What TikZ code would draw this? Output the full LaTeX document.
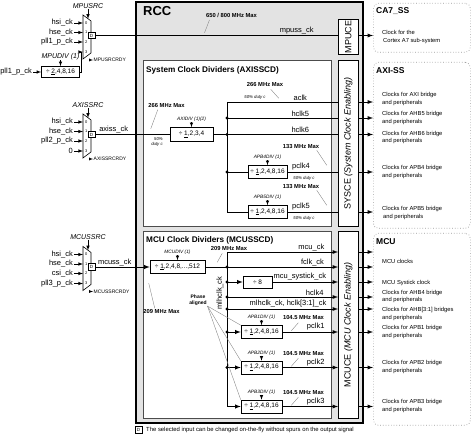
\documentclass[tikz,border=0pt]{standalone}
\usepackage{fontspec}
\setmainfont{Liberation Sans}
\usetikzlibrary{positioning,arrows}

\tikzset{
  clkmux/.pic={
    \draw[line width=0.6pt,fill=white] (0,0) -- (8,6) -- (8,38) -- (0,44) -- cycle;
    \foreach \k/\yy in {0/8,1/17.5,2/27,3/37}{
      \coordinate (-in\k) at (0,\yy);
      \node[font=\fontsize{4}{4}\selectfont,inner sep=0] (-n\k) at (3.2,\yy) {\k};
    }
    \node[dbox] (-d) at (8.5,20.5) {D};
    \coordinate (-sel) at (5,3.8);
    \coordinate (-rdy) at (7,45);
  }
}

\begin{document}
\begin{tikzpicture}[x=1pt,y=-1pt,
  sig/.style={line width=0.9pt},
  insig/.style={line width=0.6pt,-latex},
  ptr/.style={draw=gray,line width=0.35pt},
  lbl/.style={font=\fontsize{7.5}{8}\selectfont,inner sep=1pt},
  srclbl/.style={font=\fontsize{7}{8}\selectfont\itshape,inner sep=0.5pt},
  divlbl/.style={font=\fontsize{4.8}{5}\selectfont\itshape,inner sep=0.5pt},
  rdylbl/.style={font=\fontsize{5}{6}\selectfont,inner sep=0.5pt},
  maxlbl/.style={font=\fontsize{5.8}{6.5}\selectfont\bfseries,inner sep=0.5pt,align=center},
  dutylbl/.style={font=\fontsize{4.3}{4.8}\selectfont\itshape,inner sep=0.5pt,align=right},
  divbox/.style={draw,line width=0.6pt,fill=white,minimum height=13pt,inner sep=0.5pt,font=\fontsize{6.5}{7}\selectfont},
  dbox/.style={draw,line width=0.5pt,fill=white,minimum size=6.5pt,inner sep=0,font=\fontsize{4.5}{5}\selectfont},
  sectitle/.style={font=\fontsize{8.2}{9}\selectfont\bfseries,anchor=west,inner sep=0},
  subbox/.style={draw=gray!60!black,line width=0.6pt,fill=white,anchor=north west,inner sep=0},
  cestrip/.style={draw,line width=0.6pt,fill=white,anchor=north west,inner sep=0},
  cetxt/.style={font=\fontsize{9}{10}\selectfont,rotate=90,inner sep=0},
  dest/.style={draw=gray!80,dotted,line width=0.7pt,rounded corners=5pt,fill=white,anchor=north west,inner sep=0},
  desttitle/.style={font=\fontsize{8.5}{9}\selectfont\bfseries,anchor=west,inner sep=0},
  desttxt/.style={font=\fontsize{5.8}{7.8}\selectfont,align=left,anchor=west,inner sep=0},
]
\useasboundingbox (0,0) rectangle (474,435);

% RCC block and its sub blocks
\node[draw,line width=2pt,fill=gray!22,anchor=north west,minimum width=227pt,minimum height=421pt,inner sep=0] (rcc) at (135,1) {};
\node[font=\fontsize{13}{14}\selectfont\bfseries,anchor=west,inner sep=0] (rcct) at (143,11) {RCC};
\node[subbox,minimum width=188pt,minimum height=166pt] (axisscd) at (143,60) {};
\node[sectitle] (axisscdt) at (146,70) {System Clock Dividers (AXISSCD)};
\node[subbox,minimum width=188pt,minimum height=187pt] (mcusscd) at (143,231) {};
\node[sectitle] (mcusscdt) at (146,240) {MCU Clock Dividers (MCUSSCD)};

% clock enabling strips
\node[cestrip,minimum width=20pt,minimum height=35pt] (mpuce) at (338,19) {};
\node[cestrip,minimum width=20pt,minimum height=166pt] (sysce) at (338,60) {};
\node[cestrip,minimum width=20pt,minimum height=187pt] (mcuce) at (338,231) {};
\node[cetxt] (mpucet) at (mpuce) {MPUCE};
\node[cetxt] (syscet) at (sysce) {SYSCE \textit{(System Clock Enabling)}};
\node[cetxt] (mcucet) at (mcuce) {MCUCE \textit{(MCU Clock Enabling)}};

% sub-systems
\node[dest,minimum width=97pt,minimum height=49pt] (ca7ss) at (373,3) {};
\node[dest,minimum width=97pt,minimum height=166pt] (axiss) at (373,62) {};
\node[dest,minimum width=97pt,minimum height=192pt] (mcuss) at (373,233) {};
\node[desttitle] (ca7sst) at (376,11) {CA7\_SS};
\node[desttitle] (axisst) at (376,71) {AXI-SS};
\node[desttitle] (mcusst) at (376,242) {MCU};
\foreach \nm/\yy/\t in {ca7a/37/{Clock for the\\\hspace{1pt}Cortex A7 sub-system},
    axia/98.7/{Clocks for AXI bridge\\and peripherals},
    axib/118/{Clocks for AHB5 bridge\\and peripherals},
    axic/137.5/{Clocks for AHB6 bridge\\and peripherals},
    axid/172/{Clocks for APB4 bridge\\and peripherals},
    axie/212.7/{Clocks for APB5 bridge\\\hspace{1pt}and peripherals},
    mcua/261/{MCU clocks},
    mcub/283/{MCU Systick clock},
    mcuc/296.5/{Clocks for AHB4 bridge\\and peripherals},
    mcud/314/{Clocks for AHB[3:1] bridges\\and peripherals},
    mcue/332/{Clocks for APB1 bridge\\and peripherals},
    mcuf/367/{Clocks for APB2 bridge\\and peripherals},
    mcug/406/{Clocks for APB3 bridge\\and peripherals}}
  \node[desttxt] (\nm) at (382,\yy) {\t};

% source muxes
\pic (mpu) at (83,15) {clkmux};
\pic (axi) at (83,114) {clkmux};
\pic (mcu) at (83,246.5) {clkmux};
\foreach \m/\s in {mpu/MPUSRC,axi/AXISSRC,mcu/MCUSSRC}{
  \node[srclbl,above=10pt of \m-sel] (\m-src) {\s};
  \draw[insig] (\m-src) -- (\m-sel);
  \node[rdylbl,right=3pt of \m-rdy] (\m-rdyl) {\s RDY};
  \draw[line width=0.4pt,-latex] (\m-rdy) -- (\m-rdyl);
}
\foreach \k/\t in {0/hsi\_ck,1/hse\_ck,2/pll1\_p\_ck}{
  \node[lbl,left=9pt of mpu-in\k] (mpu-i\k) {\t};
  \draw[insig] (mpu-i\k) -- (mpu-in\k);
}
\foreach \k/\t in {0/hsi\_ck,1/hse\_ck,2/pll2\_p\_ck,3/0}{
  \node[lbl,left=9pt of axi-in\k] (axi-i\k) {\t};
  \draw[insig] (axi-i\k) -- (axi-in\k);
}
\foreach \k/\t in {0/hsi\_ck,1/hse\_ck,2/csi\_ck,3/pll3\_p\_ck}{
  \node[lbl,left=9pt of mcu-in\k] (mcu-i\k) {\t};
  \draw[insig] (mcu-i\k) -- (mcu-in\k);
}

% MPU path
\node[divbox,minimum width=38pt,minimum height=11pt] (mpudiv) at (60.5,72) {÷ \underline{2},4,8,16};
\node[srclbl,above=6pt of mpudiv] (mpudiv-l) {MPUDIV (1)};
\draw[insig] (mpudiv-l) -- (mpudiv);
\node[lbl,left=8pt of mpudiv] (mpudiv-i) {pll1\_p\_ck};
\draw[insig] (mpudiv-i) -- (mpudiv);
\draw[insig] (mpudiv.east) -- ++(1.5,0) |- (mpu-in3);
\draw[sig] (mpu-d) -- (mpu-d -| mpuce.west) node[lbl,pos=0.83,above] (mpussl) {mpuss\_ck};
\draw[sig,-latex] (mpu-d -| mpuce.east) -- (mpu-d -| ca7ss.west);
\node[maxlbl] (mx650) at (231.5,15.5) {650 / 800 MHz Max};
\draw[ptr] (mx650.south west) ++(4,1.5) -- ++(-5,13);

% AXI path
\node[divbox,minimum width=43pt,minimum height=14pt] (axidiv) at (191.5,134.5) {÷ \underline{1},2,3,4};
\node[divlbl,above=5pt of axidiv] (axidiv-l) {AXIDIV (1)(2)};
\draw[insig] (axidiv-l) -- (axidiv);
\draw[sig] (axi-d) -- (axidiv) node[lbl,pos=0.25,above] (axissl) {axiss\_ck};
\node[maxlbl] (mx266a) at (166.5,106) {266 MHz Max};
\draw[ptr] (mx266a.south west) ++(10,1) -- ++(-7,19);
\node[dutylbl] (duty0) at (157,142) {50\%\\duty c};

\foreach \nm/\yy in {aclk/102,hclkv/118,hclkvi/134.5,pclkiv/172,pclkv/212}
  \coordinate (ax-\nm) at (227,\yy);
\draw[sig] (ax-aclk) -- (ax-pclkv);
\draw[sig] (axidiv) -- (ax-hclkvi);
\foreach \nm/\t in {aclk/aclk,hclkv/hclk5,hclkvi/hclk6}
  \draw[sig] (ax-\nm) -- (ax-\nm -| sysce.west) node[lbl,pos=0.66,above] (ax-\nm-l) {\t};
\foreach \nm in {hclkv,hclkvi,pclkiv}
  \fill (ax-\nm) circle (1.7pt);
\node[maxlbl] (mx266b) at (265,84.5) {266 MHz Max};
\node[dutylbl] (duty1) at (255,97.5) {50\% duty c};
\draw[ptr] (mx266b.south east) ++(-13,2) -- ++(8,9);

\foreach \nm/\k/\yy in {pclkiv/4/172,pclkv/5/212}{
  \node[divbox,minimum width=39pt] (apb\k) at (267.5,\yy) {÷ \underline{1},2,4,8,16};
  \node[divlbl,above=5pt of apb\k] (apb\k-l) {APB\k DIV (1)};
  \draw[insig] (apb\k-l) -- (apb\k);
  \draw[sig] (ax-\nm) -- (apb\k);
  \draw[sig] (apb\k) -- (apb\k -| sysce.west) node[lbl,pos=0.27,above] (apb\k-o) {pclk\k};
  \node[maxlbl] (mx133-\k) at (301,\yy-25.5) {133 MHz Max};
  \draw[ptr] (mx133-\k.south east) ++(-3,1) -- ++(10,15);
  \node[dutylbl] (duty\k) at (304,\yy+6.5) {50\% duty c};
}
\foreach \nm in {aclk,hclkv,hclkvi,pclkiv,pclkv}
  \draw[sig,-latex] (ax-\nm -| sysce.east) -- (ax-\nm -| axiss.west);

% MCU path
\node[divbox,minimum width=55pt] (mcudiv) at (177.5,267) {÷ \underline{1},2,4,8,...,512};
\node[divlbl,above=5pt of mcudiv] (mcudiv-l) {MCUDIV (1)};
\draw[insig] (mcudiv-l) -- (mcudiv);
\draw[sig,-latex] (mcu-d) -- (mcudiv) node[lbl,pos=0.36,above] (mcussl) {mcuss\_ck};
\node[maxlbl] (mx209a) at (229,248.5) {209 MHz Max};
\draw[ptr] (mx209a.south west) ++(12,2) -- ++(-5,9);
\node[maxlbl] (mx209b) at (161.5,312) {209 MHz Max};
\draw[ptr] (mx209b.north west) ++(12,-1) -- ++(-6,-25);

\foreach \nm/\yy in {mcu/252,fclk/267,systick/282,hclkiv/297,mlh/309,pclki/332,pclkii/367.5,pclkiii/406.5}
  \coordinate (mc-\nm) at (227,\yy);
\draw[sig] (mc-mcu) -- (mc-pclkiii);
\draw[sig] (mcudiv) -- (mc-fclk);
\foreach \nm/\p/\t in {mcu/0.76/mcu\_ck,fclk/0.77/fclk\_ck,hclkiv/0.79/hclk4,mlh/0.55/{mlhclk\_ck, hclk[3:1]\_ck}}
  \draw[sig,-latex] (mc-\nm) -- (mc-\nm -| mcuce.west) node[lbl,pos=\p,above] (mc-\nm-l) {\t};
\foreach \nm in {fclk,systick,hclkiv,mlh,pclki,pclkii}
  \fill (mc-\nm) circle (1.7pt);
\node[lbl,rotate=90] (mlhv) at (220,293) {mlhclk\_ck};

\node[divbox,minimum width=29pt,minimum height=12pt] (div8) at (257.5,282) {÷ 8};
\draw[sig,-latex] (mc-systick) -- (div8);
\draw[sig,-latex] (div8) -- (div8 -| mcuce.west) node[lbl,pos=0.42,above] (systickl) {mcu\_systick\_ck};

\foreach \nm/\k/\yy in {pclki/1/332,pclkii/2/367.5,pclkiii/3/406.5}{
  \node[divbox,minimum width=41pt] (apb\k) at (261.5,\yy) {÷ \underline{1},2,4,8,16};
  \node[divlbl,above=5pt of apb\k] (apb\k-l) {APB\k DIV (1)};
  \draw[insig] (apb\k-l) -- (apb\k);
  \draw[sig,-latex] (mc-\nm) -- (apb\k);
  \draw[sig,-latex] (apb\k) -- (apb\k -| mcuce.west) node[lbl,pos=0.6,above] (apb\k-o) {pclk\k};
  \node[maxlbl] (mx104-\k) at (303.5,\yy-14) {104.5 MHz Max};
  \draw[ptr] (mx104-\k.south west) ++(16,2) -- ++(-7,8);
}
\node[maxlbl,font=\fontsize{5}{6}\selectfont\bfseries] (phase) at (198,300) {Phase\\aligned};
\foreach \k in {1,2,3}
  \draw[ptr] (phase.south east) -- (apb\k.north west);
\foreach \nm in {mcu,fclk,systick,hclkiv,mlh,pclki,pclkii,pclkiii}
  \draw[sig,-latex] (mc-\nm -| mcuce.east) -- (mc-\nm -| mcuss.west);

% footnote
\node[dbox,minimum size=7pt] (fnd) at (138.5,430) {D};
\node[font=\fontsize{5.9}{6}\selectfont,anchor=west,inner sep=0] (fntxt) at (146,430) {The selected input can be changed on-the-fly without spurs on the output signal};
\end{tikzpicture}
\end{document}
